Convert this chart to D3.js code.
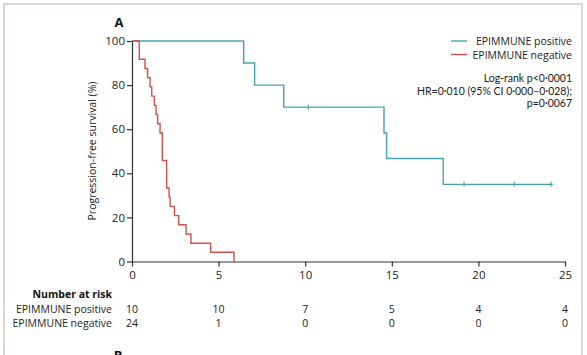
<!DOCTYPE html>
<html><head><meta charset="utf-8">
<script src="https://cdn.jsdelivr.net/npm/d3@7"></script>
<style>body{margin:0;background:#fff}svg{display:block;font-family:"Open Sans",sans-serif}</style>
</head><body><svg id="c" width="587" height="355"></svg>
<script>
const xTicks = [0, 5, 10, 15, 20, 25];
const yTicks = [0, 20, 40, 60, 80, 100];
const posTimes = [0, 6.45, 7.08, 8.76, 14.55, 14.7, 17.97, 24.3];
const posSurv  = [100, 90, 80, 70, 58.3, 46.7, 35, 35];
const posCensor = [10.18, 19.17, 22.07, 24.19];
const negTimes = [0, 0.42, 0.75, 0.9, 1.04, 1.14, 1.29, 1.39, 1.48, 1.62, 1.75, 2.0, 2.14, 2.2, 2.45, 2.7, 3.12, 3.4, 4.54, 5.89];
const negSurv  = [100, 91.7, 87.5, 83.3, 79.2, 75, 70.8, 66.7, 62.5, 58.3, 45.8, 33.3, 29.2, 25, 20.8, 16.7, 12.5, 8.3, 4.2, 0];
const seriesNames = ["EPIMMUNE positive", "EPIMMUNE negative"];
const riskPos = [10, 10, 7, 5, 4, 4];
const riskNeg = [24, 1, 0, 0, 0, 0];
const statsLines = ["Log-rank p<0·0001", "HR=0·010 (95% CI 0·000–0·028);", "p=0·0067"];

const blue = "#45a2b6", red = "#d5504a";
const svg = d3.select("#c");
const x = d3.scaleLinear().domain([0, 25]).range([132, 565]);
const y = d3.scaleLinear().domain([0, 100]).range([261.5, 41]);

// frame
svg.append("path").attr("d","M4,355 V4 H582 V355").attr("fill","none").attr("stroke","#d8c3c8").attr("stroke-width",1.5);

const gx = svg.append("g").attr("transform","translate(0,261.5)").call(d3.axisBottom(x).tickValues(xTicks).tickSize(5).tickPadding(4).tickSizeOuter(0));
const gy = svg.append("g").attr("transform","translate(132,0)").call(d3.axisLeft(y).tickValues(yTicks).tickSize(5).tickPadding(2).tickSizeOuter(0));
[gx, gy].forEach(g => {
  g.select(".domain").attr("stroke","#333").attr("stroke-width",1.2);
  g.selectAll(".tick line").attr("stroke","#333").attr("stroke-width",1.2);
  g.selectAll("text").attr("font-family","Open Sans").attr("font-size",11.5).attr("fill","#222");
});

svg.append("text").attr("transform","translate(96,151) rotate(-90)").attr("text-anchor","middle")
  .attr("font-size",10.5).attr("fill","#222").text("Progression-free survival (%)");
svg.append("text").attr("x",119).attr("y",27).attr("text-anchor","middle").attr("font-weight","bold")
  .attr("font-size",13).attr("fill","#111").text("A");

const step = (t, s) => d3.line().curve(d3.curveStepAfter).x(d => x(d[0])).y(d => y(d[1]))(t.map((v,i)=>[v,s[i]]));
svg.append("path").attr("d", step(posTimes, posSurv)).attr("fill","none").attr("stroke",blue).attr("stroke-width",1.4);
svg.selectAll(".cens").data(posCensor).enter().append("line")
  .attr("x1",d=>x(d)).attr("x2",d=>x(d)).attr("y1",y(posSurv[posSurv.length-1])-2.5).attr("y2",y(posSurv[posSurv.length-1])+2.5)
  .attr("stroke",blue).attr("stroke-width",1.2)
  .attr("transform",(d)=> d < 12 ? `translate(0,${y(70)-y(35)})` : null);
svg.append("path").attr("d", step(negTimes, negSurv)).attr("fill","none").attr("stroke",red).attr("stroke-width",1.4);

// legend
const leg = [[blue, 41], [red, 54.5]];
leg.forEach((l,i) => {
  svg.append("line").attr("x1",451).attr("x2",467).attr("y1",l[1]).attr("y2",l[1]).attr("stroke",l[0]).attr("stroke-width",1.4);
  svg.append("text").attr("x",572).attr("y",l[1]+4).attr("text-anchor","end").attr("font-size",10.5).attr("fill","#222").text(seriesNames[i]);
});
statsLines.forEach((s,i) => {
  svg.append("text").attr("x",572).attr("y",82+i*12.7).attr("text-anchor","end")
    .attr("font-family","Lato").attr("font-size",10.5).attr("fill","#222").text(s);
});

// risk table
svg.append("text").attr("x",112).attr("y",298).attr("text-anchor","end").attr("font-weight","bold").attr("font-size",10.5).attr("fill","#111").text("Number at risk");
[[riskPos, 312.5], [riskNeg, 327]].forEach((r,i) => {
  svg.append("text").attr("x",112).attr("y",r[1]).attr("text-anchor","end").attr("font-size",10.5).attr("fill","#222").text(seriesNames[i]);
  svg.selectAll(null).data(r[0]).enter().append("text")
    .attr("x",(d,j)=>x(xTicks[j])).attr("y",r[1]).attr("text-anchor","middle").attr("font-size",10.5).attr("fill","#222").text(d=>d);
});
svg.append("text").attr("x",118).attr("y",360).attr("text-anchor","middle").attr("font-weight","bold").attr("font-size",13).attr("fill","#111").text("B");
</script></body></html>
